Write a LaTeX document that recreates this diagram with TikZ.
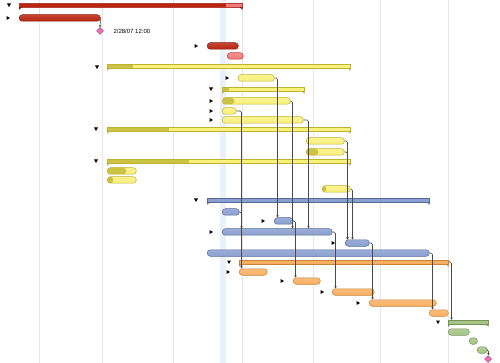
\documentclass[tikz,border=0pt]{standalone}
\usepackage{fontspec}
\setmainfont{Liberation Sans}
\usepackage{tikz}
\usetikzlibrary{arrows.meta, shapes.geometric}

\definecolor{gridgray}{HTML}{E6E6E6}
\definecolor{todayblue}{HTML}{EAF1FA}
\definecolor{depgray}{HTML}{4A4A4A}
\definecolor{redbar}{HTML}{B8260F}
\definecolor{redbarline}{HTML}{8A1A08}
\definecolor{pinkbar}{HTML}{F07C78}
\definecolor{pinkbarline}{HTML}{B83C38}
\definecolor{yelbar}{HTML}{FAF07C}
\definecolor{yelbarline}{HTML}{BDB232}
\definecolor{yeldone}{HTML}{CCC244}
\definecolor{bluebar}{HTML}{8A9FD0}
\definecolor{bluebarline}{HTML}{566A9C}
\definecolor{orgbar}{HTML}{F7B062}
\definecolor{orgbarline}{HTML}{C8853A}
\definecolor{grnbar}{HTML}{A6C486}
\definecolor{grnbarline}{HTML}{749456}
\definecolor{mspink}{HTML}{E872BA}
\definecolor{mspinkline}{HTML}{A84880}

\tikzset{
    task/.style={draw=#1line, top color=#1!85!white, bottom color=#1,
        rounded corners=3pt, minimum height=6.5pt,
        inner sep=0pt, anchor=west, line width=0.5pt},
    sumbar/.style={draw=#1line, fill=#1, minimum height=4pt,
        inner sep=0pt, anchor=west, line width=0.5pt},
    progress/.style 2 args={path picture={
        \fill[#1] (path picture bounding box.south west)
            rectangle ([xshift=#2]path picture bounding box.north west);}},
    milestone/.style={diamond, draw=mspinkline, fill=mspink, minimum size=7pt,
        inner sep=0pt, line width=0.5pt},
    dep/.style={draw=depgray, line width=0.6pt, rounded corners=1.5pt,
        -{Stealth[length=2.2pt, width=2.6pt]}},
    gridline/.style={draw=gridgray, line width=0.8pt}
}

\begin{document}
\begin{tikzpicture}[x=1pt, y=-1pt]
    \useasboundingbox (0,0) rectangle (500,363);
    \fill[white] (0,0) rectangle (500,363);

    % Grid and today line
    \fill[todayblue] (220,0) rectangle (226,363);
    \foreach \x in {39,102,173,242,313,380,448}
        \draw[gridline] (\x,0) -- (\x,363);

    % Define nodes
    \node[sumbar=pinkbar, progress={redbar}{207pt}, minimum width=223] (S1) at (19,5) {};
    \node[task=redbar, minimum width=81] (T2) at (19,18) {};
    \node[milestone] (M3) at (100,31) {};
    \node[anchor=west, font=\fontsize{6}{7}\selectfont] (D3) at (110,31) {2/28/07 12:00};
    \node[task=redbar, minimum width=31] (T4) at (207,46) {};
    \node[task=pinkbar, minimum width=16] (T5) at (227,56) {};

    \node[sumbar=yelbar, progress={yeldone}{26pt}, minimum width=243] (S6) at (107,66) {};
    \node[task=yelbar, minimum width=36] (T7) at (238,78) {};
    \node[sumbar=yelbar, progress={yeldone}{7pt}, minimum width=82] (S8) at (222,89) {};
    \node[task=yelbar, progress={yeldone}{12pt}, minimum width=68] (T9) at (222,101) {};
    \node[task=yelbar, minimum width=14] (T10) at (222,111) {};
    \node[task=yelbar, minimum width=81] (T11) at (222,120) {};
    \node[sumbar=yelbar, progress={yeldone}{62pt}, minimum width=243] (S12) at (107,129) {};
    \node[task=yelbar, minimum width=38] (T13) at (306,141) {};
    \node[task=yelbar, progress={yeldone}{12pt}, minimum width=38] (T14) at (306,152) {};
    \node[sumbar=yelbar, progress={yeldone}{82pt}, minimum width=243] (S15) at (107,161) {};
    \node[task=yelbar, progress={yeldone}{19pt}, minimum width=29] (T16) at (107,171) {};
    \node[task=yelbar, progress={yeldone}{6pt}, minimum width=29] (T17) at (107,180) {};
    \node[task=yelbar, progress={yeldone}{4pt}, minimum width=28] (T18) at (322,189) {};

    \node[sumbar=bluebar, minimum width=222] (S19) at (207,200) {};
    \node[task=bluebar, minimum width=17] (T20) at (222,212) {};
    \node[task=bluebar, minimum width=19] (T21) at (274,221) {};
    \node[task=bluebar, minimum width=110] (T22) at (222,232) {};
    \node[task=bluebar, minimum width=24] (T23) at (345,243) {};
    \node[task=bluebar, minimum width=222] (T24) at (207,253) {};

    \node[sumbar=orgbar, minimum width=209] (S25) at (239,262) {};
    \node[task=orgbar, minimum width=28] (T26) at (239,272) {};
    \node[task=orgbar, minimum width=27] (T27) at (293,281) {};
    \node[task=orgbar, minimum width=42] (T28) at (332,292) {};
    \node[task=orgbar, minimum width=67] (T29) at (369,303) {};
    \node[task=orgbar, minimum width=19] (T30) at (429,313) {};

    \node[sumbar=grnbar, minimum width=40] (S31) at (448,322) {};
    \node[task=grnbar, minimum width=21] (T32) at (448,332) {};
    \node[task=grnbar, minimum width=8] (T33) at (469,341) {};
    \node[task=grnbar, minimum width=10] (T34) at (477,350) {};
    \node[milestone] (M35) at (488,359) {};

    % Summary end caps
    \foreach \s/\c in {S1/redbarline, S6/yelbarline, S8/yelbarline, S12/yelbarline,
                       S15/yelbarline, S19/bluebarline, S25/orgbarline, S31/grnbarline} {
        \fill[\c] (\s.south west) -- ++(3,0) -- ++(-3,2.5) -- cycle;
        \fill[\c] (\s.south east) -- ++(-3,0) -- ++(3,2.5) -- cycle;
    }

    % Outline triangles
    \foreach \x/\y in {9/5, 97/67, 211/89, 96/129, 96/161, 196/200, 229/262, 438/322}
        \fill (\x,\y) ++(-2,-1.5) -- ++(4,0) -- ++(-2,3.5) -- cycle;
    \foreach \x/\y in {8/18, 196/46, 227/78, 211/101, 211/111, 211/120, 263/221,
                       211/232, 333/243, 228/272, 282/281, 322/292, 358/303}
        \fill (\x,\y) ++(-1.5,-2) -- ++(0,4) -- ++(3.5,-2) -- cycle;

    % Draw arrows
    \draw[dep] (T2.east) -- (M3.north);
    \foreach \a/\b/\d in {T7/T21/3, T9/T22/2, T10/T22/5, T11/T22/5, T13/T23/3,
                          T14/T23/3, T18/T23/2, T20/T26/2, T21/T27/2, T22/T28/3,
                          T23/T29/3, T24/T30/3, S25/S31/3}
        \draw[dep] (\a.east) -- ++(\d,0) coordinate (k) -- (k |- \b.north);
    \draw[dep] (T34.east) -- ++(1,0) coordinate (k) -- (k |- M35.north);
\end{tikzpicture}
\end{document}
